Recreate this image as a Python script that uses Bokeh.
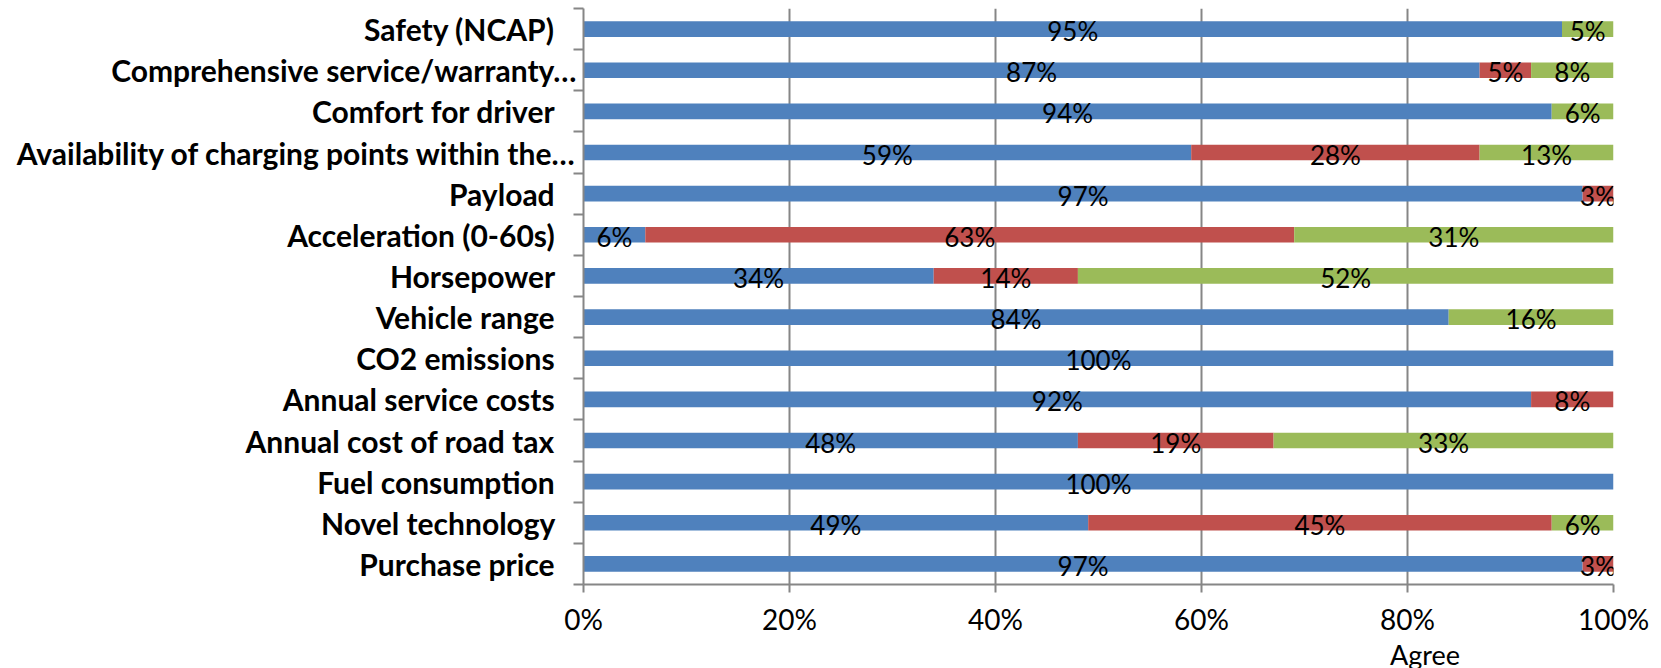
from bokeh.plotting import figure
from bokeh.layouts import column
from bokeh.models import (Range1d, FixedTicker, NumeralTickFormatter, ColumnDataSource,
                          Legend, LegendItem)
from bokeh.core.properties import value
from bokeh.embed import file_html
from bokeh.resources import INLINE

categories = [
    "Safety (NCAP)",
    "Comprehensive service/warranty…",
    "Comfort for driver",
    "Availability of charging points within the…",
    "Payload",
    "Acceleration (0-60s)",
    "Horsepower",
    "Vehicle range",
    "CO2 emissions",
    "Annual service costs",
    "Annual cost of road tax",
    "Fuel consumption",
    "Novel technology",
    "Purchase price",
]
agree = [95, 87, 94, 59, 97, 6, 34, 84, 100, 92, 48, 100, 49, 97]
disagree = [0, 5, 0, 28, 3, 63, 14, 0, 0, 8, 19, 0, 45, 3]
neutral = [5, 8, 6, 13, 0, 31, 52, 16, 0, 0, 33, 0, 6, 0]
series_names = ["Agree", "Disagree", "Neutral"]
x_ticks = [0, 0.2, 0.4, 0.6, 0.8, 1.0]

colors = ["#4F81BD", "#C0504D", "#9BBB59"]
GRID = "#868686"
FONT = "Lato"

n = len(categories)
ypos = [n - i - 0.5 for i in range(n)]
bounds = list(range(n + 1))

src = ColumnDataSource(dict(
    y=ypos,
    agree=[v / 100 for v in agree],
    disagree=[v / 100 for v in disagree],
    neutral=[v / 100 for v in neutral],
))

p = figure(frame_width=1030, frame_height=576, output_backend="svg", toolbar_location=None,
           x_range=Range1d(0, 1), y_range=Range1d(0, n),
           min_border_left=583, min_border_right=40, min_border_top=8, min_border_bottom=0)
p.outline_line_color = None
p.background_fill_color = "white"

rs = p.hbar_stack(["agree", "disagree", "neutral"], y="y", height=0.38,
                  color=colors, line_color=None, source=src)

# data labels
lx, ly, lt = [], [], []
for i in range(n):
    left = 0
    for vals in (agree, disagree, neutral):
        v = vals[i]
        if v > 0:
            lx.append((left + v / 2) / 100)
            ly.append(ypos[i])
            lt.append(f"{v}%")
        left += v
p.text(x=lx, y=ly, text=lt, text_align="center", text_baseline="middle", y_offset=2,
       text_font=value(FONT), text_font_size="26px", text_color="black")

# x axis
xa = p.xaxis[0]
xa.ticker = FixedTicker(ticks=x_ticks)
xa.formatter = NumeralTickFormatter(format="0%")
xa.axis_line_color = GRID
xa.axis_line_width = 2
xa.major_tick_line_color = GRID
xa.major_tick_line_width = 2
xa.major_tick_out = 8
xa.major_tick_in = 0
xa.minor_tick_line_color = None
xa.major_label_standoff = 9
xa.major_label_text_font = FONT
xa.major_label_text_font_size = "28px"
xa.major_label_text_color = "black"

# y axis
ya = p.yaxis[0]
ya.ticker = FixedTicker(ticks=ypos, minor_ticks=bounds)
nb = "\u00a0"
ya.major_label_overrides = {
    ypos[i]: (c if c.endswith("…") else c + nb * 3) for i, c in enumerate(categories)
}
ya.axis_line_color = GRID
ya.axis_line_width = 2
ya.major_tick_line_color = None
ya.major_tick_out = 0
ya.major_tick_in = 0
ya.minor_tick_line_color = GRID
ya.minor_tick_line_width = 2
ya.minor_tick_out = 10
ya.minor_tick_in = 0
ya.major_label_standoff = -3
ya.major_label_text_font = FONT
ya.major_label_text_font_style = "bold"
ya.major_label_text_font_size = "30px"
ya.major_label_text_color = "black"

p.ygrid.grid_line_color = None
p.xgrid.ticker = FixedTicker(ticks=x_ticks)
p.xgrid.grid_line_color = GRID
p.xgrid.grid_line_width = 2

# legend strip below the chart (no axes, so its frame starts at the left edge)
p2 = figure(width=583 + 1030 + 40, height=33, output_backend="svg", toolbar_location=None,
            x_range=Range1d(0, 1), y_range=Range1d(0, 1),
            x_axis_location=None, y_axis_location=None,
            min_border_left=0, min_border_right=0, min_border_top=0, min_border_bottom=0)
p2.grid.visible = False
p2.outline_line_color = None
lr = [p2.hbar(y=[], right=[], height=0.38, fill_color=c, line_color=None) for c in colors]

legend = Legend(items=[LegendItem(label=series_names[k], renderers=[lr[k]]) for k in range(3)],
                orientation="horizontal", location=(780, 0))
legend.border_line_color = None
legend.background_fill_alpha = 0
legend.label_text_font = FONT
legend.label_text_font_size = "27px"
legend.label_text_color = "black"
legend.glyph_width = 16
legend.glyph_height = 16
legend.label_standoff = 11
legend.spacing = 170
legend.padding = 0
legend.margin = 0
p2.add_layout(legend)

layout = column(p, p2, spacing=0)
open("out.html", "w").write(file_html(layout, INLINE))
